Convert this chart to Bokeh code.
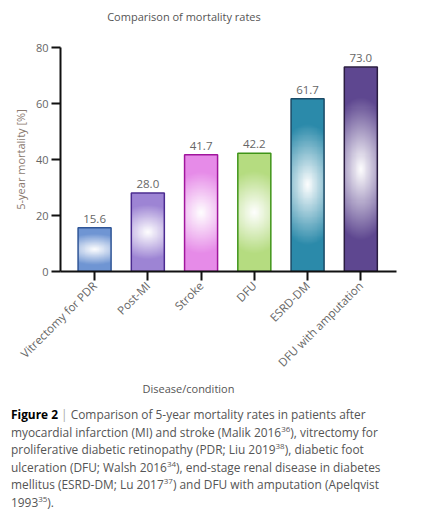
import math
import numpy as np
from bokeh.plotting import figure
from bokeh.models import Range1d, FixedTicker, Div, ColumnDataSource, Title
from bokeh.layouts import column
from bokeh.embed import file_html
from bokeh.resources import INLINE
from bokeh.core.properties import value

# Five-year mortality by disease / condition
categories = ["Vitrectomy for PDR", "Post-MI", "Stroke", "DFU", "ESRD-DM", "DFU with amputation"]
mortality = [15.6, 28.0, 41.7, 42.2, 61.7, 73.0]
fill_colors = ["#6f95d3", "#9d84d4", "#e68be8", "#b5dc80", "#2b8aaa", "#5e4790"]
edge_colors = ["#2f5596", "#4b2b90", "#a0159c", "#3f9418", "#1a4a66", "#2a1c40"]
y_ticks = [0, 20, 40, 60, 80]

FONT = "Open Sans"
xs = list(range(len(categories)))
BAR_W = 0.62

heading = Div(
    text="Comparison of mortality rates", width=368, height=34, margin=0,
    styles={"font-family": "'Open Sans'", "font-size": "11px",
            "line-height": "34px", "color": "#555555", "text-align": "center"},
)

p = figure(width=428, height=366,
           x_range=Range1d(-0.64, 5.67), y_range=Range1d(0, 80),
           output_backend="svg", toolbar_location=None, title=None,
           min_border_left=60, min_border_right=32,
           min_border_top=13, min_border_bottom=129)
p.outline_line_color = None
p.grid.visible = False
p.background_fill_color = "white"


def hex_rgb(h):
    h = h.lstrip("#")
    return np.array([int(h[i:i + 2], 16) for i in (0, 2, 4)], dtype=float)


def radial_fill(color, nx=40, ny=200):
    # white centre fading out to the bar colour (elliptical radial gradient)
    u = (np.arange(nx) + 0.5) / nx - 0.5
    v = (np.arange(ny) + 0.5) / ny - 0.5
    U, V = np.meshgrid(u, v)
    t = np.clip(np.sqrt((U / 1.0) ** 2 + (V / 0.35) ** 2), 0, 1)
    rgb = 255.0 + (hex_rgb(color) - 255.0) * t[..., None]
    img = np.empty((ny, nx), dtype=np.uint32)
    view = img.view(dtype=np.uint8).reshape((ny, nx, 4))
    view[..., 0] = rgb[..., 0].round().astype(np.uint8)
    view[..., 1] = rgb[..., 1].round().astype(np.uint8)
    view[..., 2] = rgb[..., 2].round().astype(np.uint8)
    view[..., 3] = 255
    return img


for x, val, col in zip(xs, mortality, fill_colors):
    p.image_rgba(image=[radial_fill(col)], x=x - BAR_W / 2, y=0, dw=BAR_W, dh=val)

src = ColumnDataSource(dict(x=xs, top=mortality, edge=edge_colors,
                            lab=[f"{v:.1f}" for v in mortality]))
p.vbar(x="x", top="top", width=BAR_W, source=src, fill_alpha=0,
       line_color="edge", line_width=1.5)
p.text(x="x", y="top", text="lab", source=src, text_align="center",
       text_baseline="bottom", y_offset=-5, text_font=value(FONT),
       text_font_size="11.5px", text_color="#666666")

# axes
p.xaxis.ticker = FixedTicker(ticks=xs)
p.xaxis.major_label_overrides = {i: c for i, c in zip(xs, categories)}
p.xaxis.major_label_orientation = math.pi / 4
p.yaxis.ticker = FixedTicker(ticks=y_ticks)
p.yaxis.bounds = (0, 80)
for ax in (p.xaxis, p.yaxis):
    ax.axis_line_width = 2
    ax.axis_line_color = "#111111"
    ax.major_tick_line_width = 2
    ax.major_tick_line_color = "#111111"
    ax.major_tick_out = 9
    ax.major_tick_in = 0
    ax.minor_tick_out = 0
    ax.minor_tick_in = 0
    ax.major_label_text_font = FONT
    ax.major_label_text_font_size = "11px"
    ax.major_label_text_color = "#666666"
    ax.major_label_standoff = 3
p.xaxis.major_label_text_font_size = "11.5px"
p.yaxis.axis_label = "5-year mortality [%]"
p.yaxis.axis_label_text_font = FONT
p.yaxis.axis_label_text_font_size = "11px"
p.yaxis.axis_label_text_font_style = "normal"
p.yaxis.axis_label_text_color = "#8a7a70"
p.yaxis.axis_label_standoff = 5

p.add_layout(Title(text="Disease/condition", align="left", offset=82,
                   standoff=2,
                   text_font=FONT, text_font_size="11px",
                   text_font_style="normal", text_color="#555555"), "below")

sup = '<sup style="font-size:8px;line-height:0">'
caption = Div(
    text=(
        '<b style="color:#000">Figure 2</b> <span style="color:#aaa">|</span> '
        'Comparison of 5-year mortality rates in patients after<br>'
        f'myocardial infarction (MI) and stroke (Malik 2016{sup}36</sup>), vitrectomy for<br>'
        f'proliferative diabetic retinopathy (PDR; Liu 2019{sup}38</sup>), diabetic foot<br>'
        f'ulceration (DFU; Walsh 2016{sup}34</sup>), end-stage renal disease in diabetes<br>'
        f'mellitus (ESRD-DM; Lu 2017{sup}37</sup>) and DFU with amputation (Apelqvist<br>'
        f'1993{sup}35</sup>).'
    ),
    width=422, height=112,
    styles={"font-family": "'Open Sans'", "font-size": "11.9px",
            "line-height": "17.6px", "color": "#555555", "padding-left": "6px",
            "margin-top": "6px"},
)

layout = column(heading, p, caption, spacing=0)
open("out.html", "w").write(file_html(layout, INLINE))
